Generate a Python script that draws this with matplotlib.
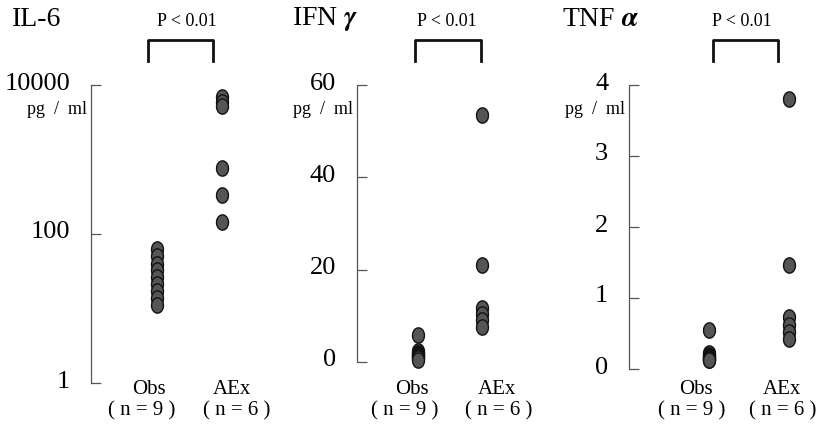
import numpy as np
import matplotlib
matplotlib.use('Agg')
import matplotlib.pyplot as plt
from matplotlib.path import Path
from matplotlib.transforms import ScaledTranslation

plt.rcParams['font.family'] = ['Liberation Serif', 'DejaVu Serif']
plt.rcParams['mathtext.fontset'] = 'stix'

# data
groups = ['Obs', 'AEx']
group_n = ['( n = 9 )', '( n = 6 )']

il6_obs = [62, 50, 40, 33, 26.5, 21.4, 17.2, 13.8, 11]
il6_aex = [6800, 6000, 5300, 770, 333, 145]

ifn_obs = [5.95, 2.3, 2.0, 1.8, 1.5, 1.3, 1.0, 0.8, 0.5]
ifn_aex = [53.5, 21.1, 11.8, 10.4, 9.0, 7.5]

tnf_obs = [0.556, 0.22, 0.2, 0.19, 0.17, 0.16, 0.14, 0.13, 0.12]
tnf_aex = [3.80, 1.46, 0.73, 0.62, 0.52, 0.42]

titles = ['IL-6', r'IFN $\boldsymbol{\gamma}$', r'TNF $\boldsymbol{\alpha}$']
il6_ticks = [1, 100, 10000]
ifn_ticks = [0, 20, 40, 60]
tnf_ticks = [0, 1, 2, 3, 4]

W, H = 821, 428
fig = plt.figure(figsize=(W / 100, H / 100), dpi=100)

# slightly tall ellipse marker
t = np.linspace(0, 2 * np.pi, 60)
dot = Path(np.column_stack([0.78 * np.cos(t), np.sin(t)]))


def fy(py):
    return (H - py) / H


# (spine x, obs x, aex x, top y, bottom y) in pixels
layout = [
    (91, 157, 222, 85, 383),
    (357, 418, 482, 85, 362),
    (629, 709, 789, 85, 369),
]
title_x = [12, 292, 562]
bracket_x = [(148, 213), (415, 481), (713, 778)]
p_x = [187, 447, 742]
grp_x = [(149, 232), (412, 497), (696, 782)]
n_x = [(142, 237), (405, 499), (692, 783)]

panels = [
    (il6_obs, il6_aex, il6_ticks, (1, 10000), True),
    (ifn_obs, ifn_aex, ifn_ticks, (0, 60), False),
    (tnf_obs, tnf_aex, tnf_ticks, (0, 4), False),
]

up = ScaledTranslation(0, 4 / 100, fig.dpi_scale_trans)

for i, (obs, aex, ticks, ylim, logy) in enumerate(panels):
    sx, ox, ax_x, top, bot = layout[i]
    ppu = ax_x - ox
    width = 180
    ax = fig.add_axes([sx / W, fy(bot), width / W, (bot - top) / H])
    ax.set_xlim((sx - ox) / ppu, (sx - ox + width) / ppu)
    if logy:
        ax.set_yscale('log')
    ax.set_ylim(*ylim)
    ax.patch.set_visible(False)
    for s in ['top', 'right', 'bottom']:
        ax.spines[s].set_visible(False)
    ax.spines['left'].set_color('#555555')
    ax.spines['left'].set_linewidth(0.9)
    ax.set_xticks([])
    ax.set_yticks(ticks)
    ax.set_yticklabels([str(v) for v in ticks])
    ax.yaxis.set_minor_locator(plt.NullLocator())
    ax.tick_params(axis='y', direction='in', length=7, width=0.9,
                   color='#555555', pad=15, labelsize=19)
    for lbl in ax.get_yticklabels():
        lbl.set_transform(lbl.get_transform() + up)

    ax.plot(np.zeros(len(obs)), obs, ls='none', marker=dot, ms=11,
            mfc='#555555', mec='#111111', mew=1.0, clip_on=False)
    ax.plot(np.ones(len(aex)), aex, ls='none', marker=dot, ms=11,
            mfc='#555555', mec='#111111', mew=1.0, clip_on=False)

    # bracket and p value
    bl, br = bracket_x[i]
    fig.add_artist(plt.Line2D([bl / W, bl / W, br / W, br / W],
                              [fy(61), fy(40), fy(40), fy(61)],
                              color='#111111', lw=2))
    fig.text(p_x[i] / W, fy(22), 'P < 0.01', ha='center', va='center',
             fontsize=13)
    # group labels
    for k in range(2):
        fig.text(grp_x[i][k] / W, fy(389), groups[k], ha='center',
                 va='center', fontsize=15)
        fig.text(n_x[i][k] / W, fy(411), group_n[k], ha='center',
                 va='center', fontsize=15)
    # unit label
    fig.text((sx - 4) / W, fy(109), 'pg  /  ml', ha='right', va='center',
             fontsize=13)
    fig.text(title_x[i] / W, fy(19), titles[i], ha='left', va='center',
             fontsize=20)

fig.savefig('out.png', dpi=100)
